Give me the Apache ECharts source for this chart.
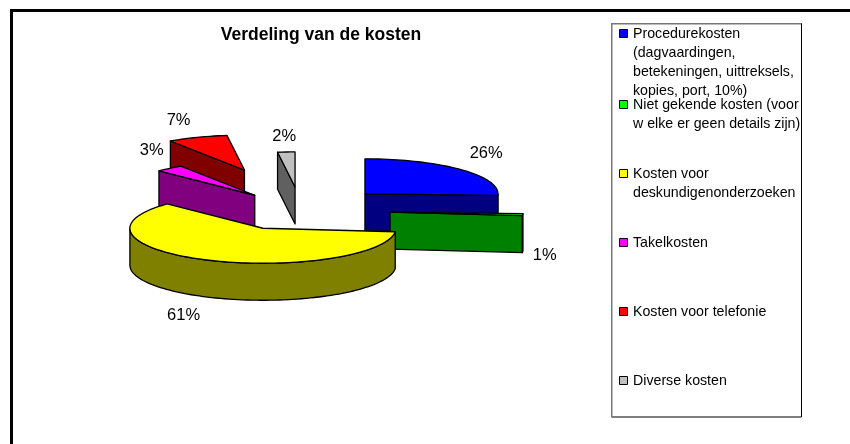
<!DOCTYPE html>
<html>
<head>
<meta charset="utf-8">
<style>html,body{margin:0;padding:0;background:#fff}#c{width:850px;height:444px}</style>
<script src="https://cdn.jsdelivr.net/npm/echarts@6/dist/echarts.min.js"></script>
</head>
<body>
<div id="c"></div>
<script>
var categories = [
  'Procedurekosten\n(dagvaardingen,\nbetekeningen, uittreksels,\nkopies, port, 10%)',
  'Niet gekende kosten (voor\nw elke er geen details zijn)',
  'Kosten voor\ndeskundigenonderzoeken',
  'Takelkosten',
  'Kosten voor telefonie',
  'Diverse kosten'
];
var percentages = [25.7, 0.9, 60.6, 3.4, 7.3, 2.1];
var topColors = ['#0000FF', '#00FF00', '#FFFF00', '#FF00FF', '#FF0000', '#C0C0C0'];
var sideColors = ['#000080', '#008000', '#808000', '#800080', '#800000', '#606060'];
var explosions = [88.5, 89.3, 90.7, 72, 160, 90];
var sliceLift = [0, 2, 0, 0, -2.5, 0];
var drawOrder = [5, 4, 3, 0, 1, 2];

var FONT = '"Liberation Sans", Arial, sans-serif';
var cx = 301, cy = 208.5, rx = 133, ry = 35, depth = 37, explodeFlat = 0.24;
var labelRx = 165, labelRy = 55;
var labelNudge = [[2, -2], [-10, 2], [-10, 0], [3, -3], [-7.5, 2], [0, 4]];
var legendX = 619, legendRows = [33, 104, 173, 242, 311, 380], legendLine = 19;

var total = percentages.reduce(function (a, b) { return a + b; }, 0);
var starts = [];
percentages.reduce(function (acc, v, i) { starts[i] = acc; return acc + v; }, 0);
function deg(v) { return v / total * 2 * Math.PI; }

function renderSlice(params, api) {
  var i = api.value(0);
  var a0 = deg(starts[i]), a1 = deg(starts[i] + percentages[i]), mid = (a0 + a1) / 2;
  var ax = cx + explosions[i] * Math.sin(mid);
  var ay = cy - explosions[i] * Math.cos(mid) * explodeFlat + sliceLift[i];
  function pt(t, dy) { return [ax + rx * Math.sin(t), ay - ry * Math.cos(t) + (dy || 0)]; }
  function arc(s, e, dy) {
    var n = Math.max(2, Math.ceil((e - s) / (Math.PI / 90))), out = [];
    for (var k = 0; k <= n; k++) out.push(pt(s + (e - s) * k / n, dy));
    return out;
  }
  function poly(points, fill) {
    return { type: 'polygon', shape: { points: points },
      style: { fill: fill, stroke: '#000', lineWidth: 1.3, lineJoin: 'round' } };
  }
  function cut(t) {
    var o = pt(t, 0);
    return poly([[ax, ay], o, [o[0], o[1] + depth], [ax, ay + depth]], sideColors[i]);
  }
  var children = [];
  if (Math.sin(a0) < -1e-6) children.push(cut(a0));
  if (Math.sin(a1) > 1e-6) children.push(cut(a1));
  var ws = Math.max(a0, Math.PI / 2), we = Math.min(a1, Math.PI * 1.5);
  if (we > ws) {
    children.push(poly(arc(ws, we, 0).concat(arc(ws, we, depth).reverse()), sideColors[i]));
  }
  children.push(poly([[ax, ay]].concat(arc(a0, a1, 0)), topColors[i]));
  children.push({
    type: 'text',
    z2: 50,
    style: {
      x: ax + labelRx * Math.sin(mid) + labelNudge[i][0],
      y: ay - labelRy * Math.cos(mid) + (Math.cos(mid) < 0 ? depth : 0) + labelNudge[i][1],
      text: Math.round(percentages[i]) + '%', fill: '#000', font: '16.5px ' + FONT,
      align: 'center', verticalAlign: 'middle'
    }
  });
  return { type: 'group', children: children };
}

function renderLegend(params, api) {
  var i = api.value(0);
  var y = legendRows[i];
  return { type: 'group', children: [
    { type: 'rect', shape: { x: legendX + 0.5, y: y - 3.5, width: 8, height: 8 },
      style: { fill: topColors[i], stroke: '#000', lineWidth: 1 } },
    { type: 'text', style: { x: legendX + 14, y: y - legendLine / 2 + 1, text: categories[i],
      fill: '#000', font: '14.2px ' + FONT, lineHeight: legendLine, align: 'left', verticalAlign: 'top' } }
  ] };
}

var chart = echarts.init(document.getElementById('c'), null, { renderer: 'canvas' });
chart.setOption({
  animation: false,
  backgroundColor: '#fff',
  title: { text: 'Verdeling van de kosten', left: 321, top: 26, textAlign: 'center', padding: 0,
    textStyle: { fontFamily: FONT, fontSize: 17.5, fontWeight: 'bold', color: '#000' } },
  tooltip: { show: false },
  graphic: [
    { type: 'rect', shape: { x: 10, y: 9, width: 3, height: 435 }, style: { fill: '#000' } },
    { type: 'rect', shape: { x: 10, y: 9, width: 840, height: 3 }, style: { fill: '#000' } },
    { type: 'rect', shape: { x: 611.5, y: 23.5, width: 190, height: 393.5 },
      style: { fill: 'none', stroke: '#000', lineWidth: 1 } },
    { type: 'rect', shape: { x: 611, y: 23, width: 1.5, height: 394 }, style: { fill: '#777' } },
    { type: 'rect', shape: { x: 611, y: 23, width: 190, height: 1.5 }, style: { fill: '#777' } }
  ],
  series: [
    { type: 'custom', coordinateSystem: 'none', renderItem: renderSlice, silent: true,
      data: drawOrder.map(function (i) { return [i]; }) },
    { type: 'custom', coordinateSystem: 'none', renderItem: renderLegend, silent: true,
      data: categories.map(function (c, i) { return [i]; }) }
  ]
});
</script>
</body>
</html>
